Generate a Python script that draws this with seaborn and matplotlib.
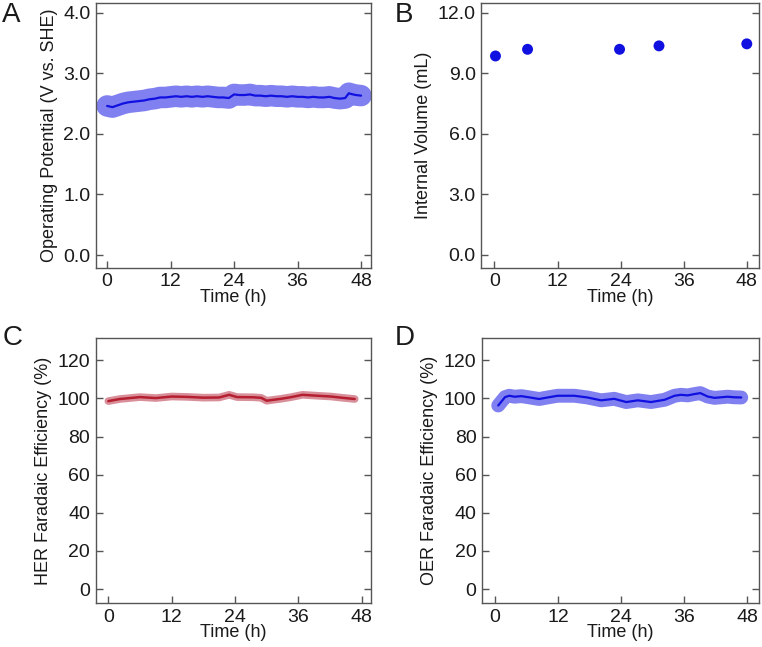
import matplotlib
matplotlib.use("Agg")
import matplotlib.pyplot as plt
import seaborn as sns

# panel A: operating potential
time_a = [0, 1, 2, 3, 4, 5, 6, 7, 8, 9, 10, 11, 12, 13, 14, 15, 16, 17, 18, 19,
          20, 21, 22, 23, 24, 25, 26, 27, 28, 29, 30, 31, 32, 33, 34, 35, 36, 37,
          38, 39, 40, 41, 42, 43, 44, 45, 45.7, 46, 47, 48]
potential = [2.46, 2.44, 2.47, 2.50, 2.52, 2.53, 2.54, 2.55, 2.57, 2.58, 2.60, 2.60,
             2.61, 2.62, 2.61, 2.62, 2.61, 2.62, 2.61, 2.62, 2.61, 2.60, 2.60, 2.59,
             2.65, 2.64, 2.64, 2.65, 2.63, 2.63, 2.62, 2.63, 2.62, 2.62, 2.61, 2.62,
             2.61, 2.61, 2.60, 2.61, 2.60, 2.60, 2.61, 2.59, 2.58, 2.59, 2.67, 2.66,
             2.64, 2.63]

# panel B: internal volume
time_b = [0.2, 6.3, 23.8, 31.3, 48.0]
volume = [9.85, 10.18, 10.18, 10.35, 10.45]

# panel C: HER faradaic efficiency
time_c = [0, 2.2, 6, 9, 12, 15, 18, 21, 22.9, 24.4, 27.6, 29, 30, 32.7, 34.5,
          36.8, 39.7, 42.2, 44.5, 46.7]
her_fe = [98.6, 99.7, 100.7, 100.2, 101.0, 100.8, 100.4, 100.5, 101.9, 100.7,
          100.6, 100.3, 98.8, 99.8, 100.6, 101.9, 101.4, 101.0, 100.3, 99.7]

# panel D: OER faradaic efficiency
time_d = [0.6, 1.9, 2.7, 3.7, 5.0, 6.2, 8.4, 10.0, 11.9, 15.1, 17.6, 20.2, 22.7,
          25.0, 27.2, 29.7, 32.3, 34.2, 35.4, 36.7, 38.0, 39.1, 40.5, 41.8, 44.3,
          45.6, 46.9]
oer_fe = [96.3, 100.7, 101.4, 100.9, 101.2, 100.7, 99.7, 100.5, 101.4, 101.4,
          100.5, 99.0, 99.8, 98.1, 99.0, 98.1, 99.3, 101.4, 101.9, 101.6, 102.3,
          102.8, 101.0, 100.3, 100.9, 100.6, 100.5]

xticks = [0, 12, 24, 36, 48]

sns.set_style("ticks")
plt.rcParams["font.family"] = ["Liberation Sans", "DejaVu Sans"]
plt.rcParams["text.color"] = "#1a1a1a"
plt.rcParams["axes.labelcolor"] = "#1a1a1a"

BLUE = "#1010e0"
BAND_BLUE = "#8080f0"
RED = "#b51f30"
BAND_RED = "#d98f9a"

fig = plt.figure(figsize=(7.62, 6.47), dpi=100)
ax_a = fig.add_axes([0.126, 0.586, 0.361, 0.4096])
ax_b = fig.add_axes([0.6316, 0.586, 0.365, 0.4096])
ax_c = fig.add_axes([0.1256, 0.068, 0.361, 0.4096])
ax_d = fig.add_axes([0.6325, 0.068, 0.363, 0.4096])

# A
sns.lineplot(x=time_a, y=potential, ax=ax_a, color=BAND_BLUE, lw=15.5,
             solid_capstyle="round", estimator=None, sort=False)
sns.lineplot(x=time_a, y=potential, ax=ax_a, color=BLUE, lw=1.6,
             estimator=None, sort=False)
ax_a.set_ylim(-0.21, 4.16)
ax_a.set_yticks([0, 1, 2, 3, 4])
ax_a.set_yticklabels(["0.0", "1.0", "2.0", "3.0", "4.0"])
ax_a.set_xlim(-2.1, 49.9)
ax_a.set_ylabel("Operating Potential (V vs. SHE)")

# B
sns.scatterplot(x=time_b, y=volume, ax=ax_b, color=BLUE, s=62, edgecolor="none")
ax_b.set_ylim(-0.64, 12.48)
ax_b.set_yticks([0, 3, 6, 9, 12])
ax_b.set_yticklabels(["0.0", "3.0", "6.0", "9.0", "12.0"])
ax_b.set_xlim(-2.5, 50.4)
ax_b.set_ylabel("Internal Volume (mL)")

# C
sns.lineplot(x=time_c, y=her_fe, ax=ax_c, color=BAND_RED, lw=5.5,
             solid_capstyle="round", estimator=None, sort=False)
sns.lineplot(x=time_c, y=her_fe, ax=ax_c, color=RED, lw=1.8,
             estimator=None, sort=False)
ax_c.set_ylim(-7.3, 131.7)
ax_c.set_yticks([0, 20, 40, 60, 80, 100, 120])
ax_c.set_xlim(-2.4, 49.75)
ax_c.set_ylabel("HER Faradaic Efficiency (%)")

# D
sns.lineplot(x=time_d, y=oer_fe, ax=ax_d, color=BAND_BLUE, lw=10,
             solid_capstyle="round", estimator=None, sort=False)
sns.lineplot(x=time_d, y=oer_fe, ax=ax_d, color=BLUE, lw=1.6,
             estimator=None, sort=False)
ax_d.set_ylim(-7.3, 131.7)
ax_d.set_yticks([0, 20, 40, 60, 80, 100, 120])
ax_d.set_xlim(-2.5, 50.2)
ax_d.set_ylabel("OER Faradaic Efficiency (%)")

for ax in (ax_a, ax_b, ax_c, ax_d):
    ax.set_xticks(xticks)
    ax.set_xlabel("Time (h)", fontsize=13, labelpad=-1)
    ax.yaxis.label.set_size(13)
    ax.tick_params(direction="in", length=5, width=1, color="#555555",
                   labelsize=14, pad=4, labelcolor="#1a1a1a",
                   left=True, right=True, bottom=True, top=False)
    for sp in ax.spines.values():
        sp.set_visible(True)
        sp.set_color("#555555")
        sp.set_linewidth(1.0)

fig.text(0.003, 0.997, "A", fontsize=20, va="top", ha="left")
fig.text(0.518, 0.997, "B", fontsize=20, va="top", ha="left")
fig.text(0.003, 0.497, "C", fontsize=20, va="top", ha="left")
fig.text(0.518, 0.497, "D", fontsize=20, va="top", ha="left")

fig.savefig("out.png", dpi=100)
